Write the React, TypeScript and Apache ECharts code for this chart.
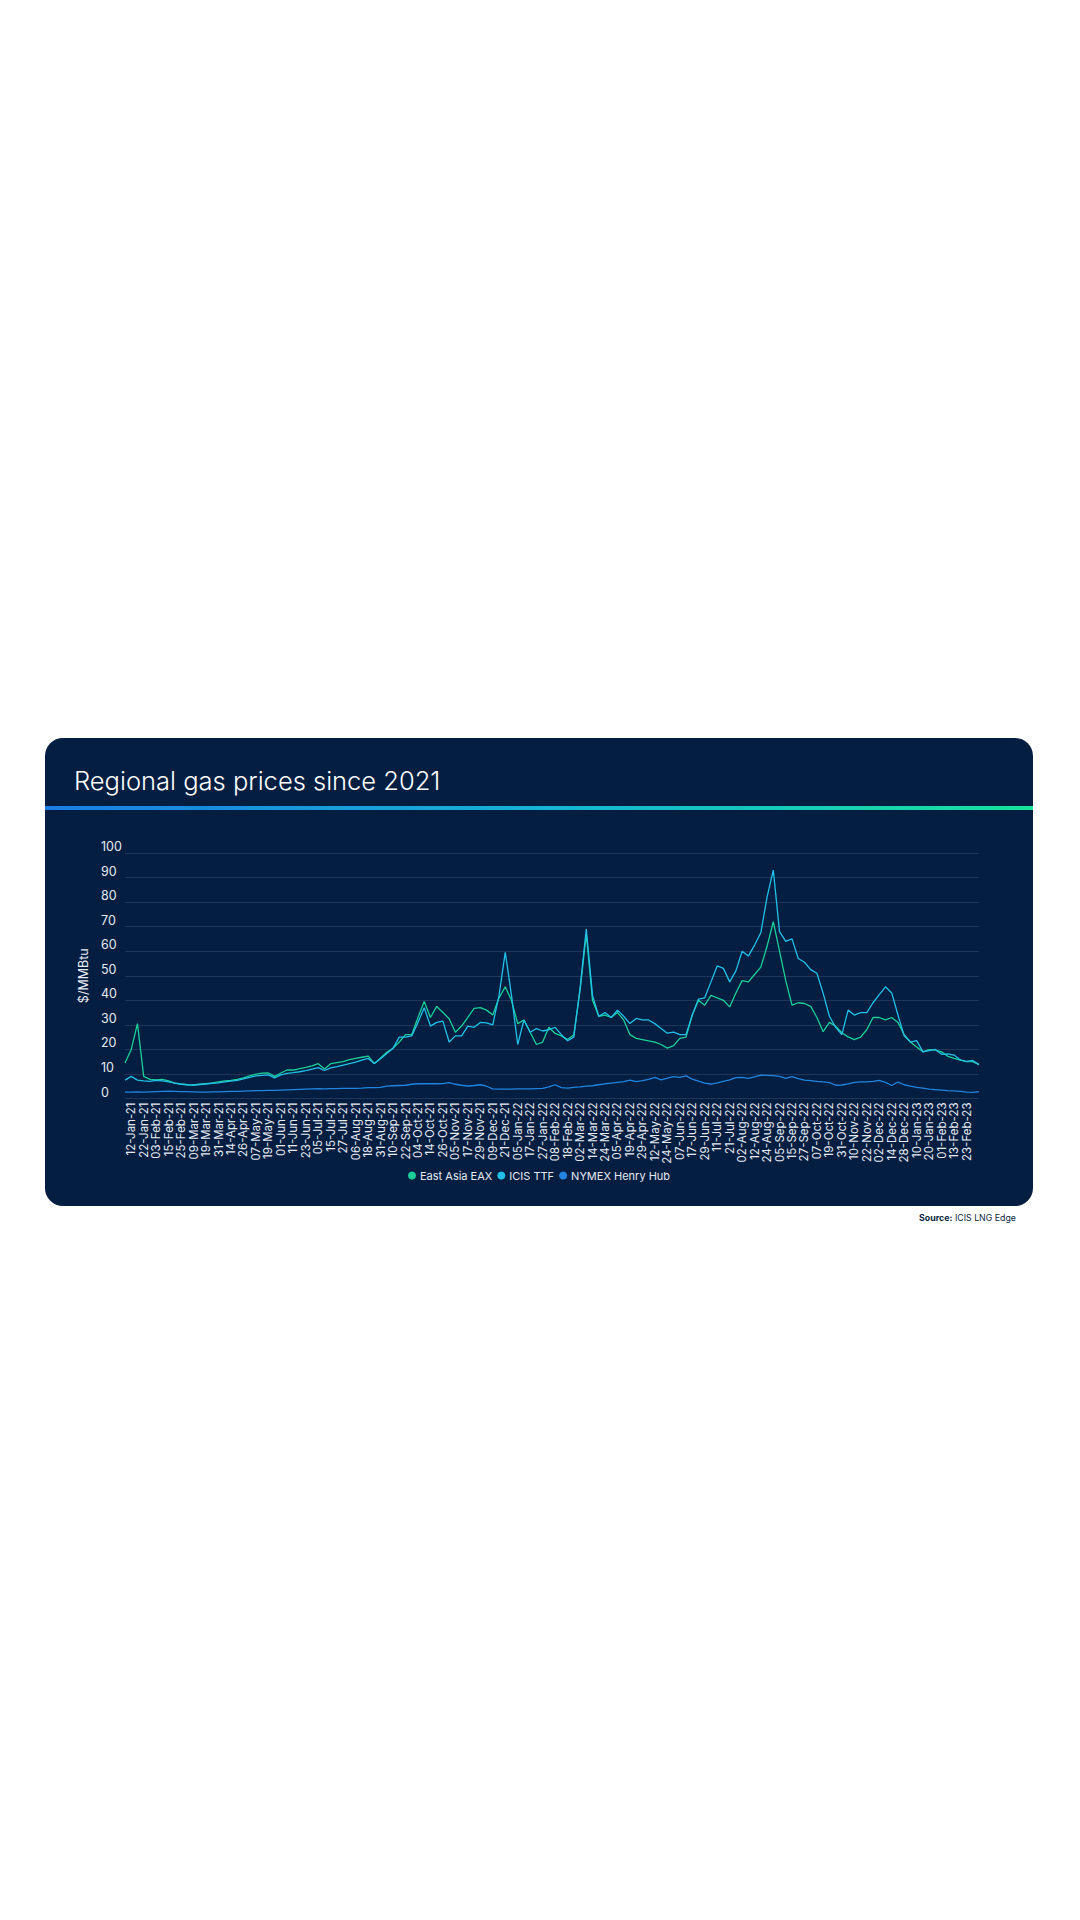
import React, { useEffect, useRef } from "react";
import * as echarts from "echarts";

const tickLabels = [
  "12-Jan-21", "22-Jan-21", "03-Feb-21", "15-Feb-21", "25-Feb-21", "09-Mar-21", "19-Mar-21", "31-Mar-21",
  "14-Apr-21", "26-Apr-21", "07-May-21", "19-May-21", "01-Jun-21", "11-Jun-21", "23-Jun-21", "05-Jul-21",
  "15-Jul-21", "27-Jul-21", "06-Aug-21", "18-Aug-21", "31-Aug-21", "10-Sep-21", "22-Sep-21", "04-Oct-21",
  "14-Oct-21", "26-Oct-21", "05-Nov-21", "17-Nov-21", "29-Nov-21", "09-Dec-21", "21-Dec-21", "05-Jan-22",
  "17-Jan-22", "27-Jan-22", "08-Feb-22", "18-Feb-22", "02-Mar-22", "14-Mar-22", "24-Mar-22", "05-Apr-22",
  "19-Apr-22", "29-Apr-22", "12-May-22", "24-May-22", "07-Jun-22", "17-Jun-22", "29-Jun-22", "11-Jul-22",
  "21-Jul-22", "02-Aug-22", "12-Aug-22", "24-Aug-22", "05-Sep-22", "15-Sep-22", "27-Sep-22", "07-Oct-22",
  "19-Oct-22", "31-Oct-22", "10-Nov-22", "22-Nov-22", "02-Dec-22", "14-Dec-22", "28-Dec-22", "10-Jan-23",
  "20-Jan-23", "01-Feb-23", "13-Feb-23", "23-Feb-23",
];

const midDates = [
  "18-Jan-21", "28-Jan-21", "09-Feb-21", "19-Feb-21", "03-Mar-21", "15-Mar-21", "25-Mar-21", "08-Apr-21",
  "20-Apr-21", "30-Apr-21", "13-May-21", "25-May-21", "07-Jun-21", "17-Jun-21", "29-Jun-21", "09-Jul-21",
  "21-Jul-21", "02-Aug-21", "12-Aug-21", "24-Aug-21", "06-Sep-21", "16-Sep-21", "28-Sep-21", "08-Oct-21",
  "20-Oct-21", "01-Nov-21", "11-Nov-21", "23-Nov-21", "03-Dec-21", "15-Dec-21", "29-Dec-21", "11-Jan-22",
  "21-Jan-22", "02-Feb-22", "14-Feb-22", "24-Feb-22", "08-Mar-22", "18-Mar-22", "30-Mar-22", "11-Apr-22",
  "25-Apr-22", "06-May-22", "18-May-22", "30-May-22", "13-Jun-22", "23-Jun-22", "05-Jul-22", "15-Jul-22",
  "27-Jul-22", "08-Aug-22", "18-Aug-22", "31-Aug-22", "09-Sep-22", "22-Sep-22", "03-Oct-22", "13-Oct-22",
  "25-Oct-22", "04-Nov-22", "16-Nov-22", "28-Nov-22", "08-Dec-22", "20-Dec-22", "04-Jan-23", "16-Jan-23",
  "26-Jan-23", "07-Feb-23", "17-Feb-23", "01-Mar-23",
];

const firstDate = "05-Jan-21";
const lastDate = "07-Mar-23";

const eastAsiaEAX = [
  14.5, 20, 30.5, 9, 7.8, 7.6, 7.8, 7.2, 6.3, 5.9,
  5.6, 5.5, 5.8, 6.1, 6.4, 6.8, 7.2, 7.4, 7.8, 8.4,
  9.2, 9.9, 10.3, 10.4, 9.0, 10.4, 11.6, 11.6, 12.2, 12.7,
  13.3, 14.2, 12.0, 14.2, 14.6, 15.0, 15.8, 16.3, 16.8, 17.3,
  14.2, 16.5, 18.8, 20.5, 23, 26, 26, 33, 39.5, 33,
  37.5, 35, 32.5, 27, 29.5, 33, 36.7, 37, 36, 34,
  41, 45.5, 40, 30.5, 32, 27, 22, 23, 29, 26.5,
  25.5, 24, 26, 44, 67, 40, 33.5, 34, 33, 35,
  32, 26, 24.5, 24, 23.5, 23, 22, 20.5, 21.5, 24.5,
  25, 34, 40, 38, 42, 41, 40, 37.3, 43, 48,
  47.5, 50.5, 53.5, 62, 72, 60, 48, 38, 39, 38.7,
  37.5, 33, 27.2, 31, 29.5, 26.8, 25.1, 24, 25, 28,
  33, 33, 32, 33, 31, 26, 23, 21, 19, 19.9,
  19.7, 19, 17.2, 16.3, 15.6, 15, 15, 13.8,
];

const icisTTF = [
  7.5, 9, 7.5, 7.2, 7, 7.4, 7.2, 6.8, 6.3, 5.8,
  5.6, 5.5, 5.7, 5.9, 6.2, 6.4, 6.8, 7.1, 7.4, 8.0,
  8.6, 9.2, 9.4, 9.6, 8.4, 9.6, 10.2, 10.5, 10.9, 11.4,
  12.0, 12.6, 11.4, 12.5, 13.0, 13.6, 14.2, 14.8, 15.6, 16.3,
  14.3, 16.2, 18.3, 20.5, 25, 25, 25.5, 31, 37, 29.5,
  31, 31.5, 23, 25.5, 25.5, 29.5, 29, 31, 30.8, 30,
  42, 59.5, 42, 22, 32, 27, 28.5, 27.5, 28, 29,
  26, 23.5, 25, 45, 69, 42, 33.5, 35, 33, 36,
  33.5, 30.5, 32.6, 32, 32, 30.5, 28.5, 26.6, 27, 26,
  26, 34, 40.5, 41, 47.5, 54, 53, 47.5, 52, 60,
  58, 62.5, 67.5, 82, 93, 68, 64, 65, 57, 55.5,
  52.5, 51, 42.8, 33.5, 29, 26, 36, 34, 35, 35,
  39, 42.3, 45.5, 43, 34, 25.5, 23, 23.6, 19, 19.5,
  20, 18, 18.2, 17.7, 15.7, 15.1, 15.5, 13.8,
];

const nymexHenryHub = [
  2.6, 2.6, 2.7, 2.6, 2.7, 2.8, 2.9, 3.0, 2.9, 2.8,
  2.8, 2.7, 2.6, 2.6, 2.7, 2.7, 2.8, 2.9, 2.9, 3.0,
  3.1, 3.2, 3.2, 3.3, 3.3, 3.4, 3.5, 3.6, 3.7, 3.8,
  3.9, 4.0, 3.9, 4.0, 4.0, 4.1, 4.1, 4.1, 4.2, 4.4,
  4.4, 4.5, 5.0, 5.2, 5.3, 5.4, 5.8, 6.0, 6.1, 6.0,
  6.0, 6.1, 6.5, 5.8, 5.4, 5.1, 5.3, 5.6, 5.0, 3.9,
  3.8, 3.8, 3.8, 3.9, 3.9, 3.9, 4.0, 4.1, 4.7, 5.6,
  4.4, 4.2, 4.5, 4.7, 5.0, 5.2, 5.6, 6.0, 6.3, 6.6,
  6.9, 7.5, 6.9, 7.3, 7.8, 8.6, 7.6, 8.3, 8.9, 8.6,
  9.2, 7.9, 7.1, 6.3, 5.9, 6.4, 7.0, 7.6, 8.5, 8.6,
  8.2, 8.8, 9.5, 9.4, 9.3, 9.0, 8.2, 8.9, 8.1, 7.5,
  7.3, 7.0, 6.8, 6.5, 5.4, 5.5, 6.0, 6.6, 6.8, 6.8,
  7.0, 7.4, 6.6, 5.3, 6.7, 5.6, 5.0, 4.5, 4.2, 3.8,
  3.6, 3.4, 3.2, 3.1, 2.9, 2.6, 2.5, 2.8,
];

const seriesNames = ["East Asia EAX", "ICIS TTF", "NYMEX Henry Hub"];
const seriesColors = ["#1ccf98", "#22c0e6", "#2184e0"];

const categories = [
  firstDate,
  ...tickLabels.flatMap((t, k) => [t, midDates[k]]),
  lastDate,
];

export default function App() {
  const ref = useRef<HTMLDivElement>(null);

  useEffect(() => {
    if (!ref.current) return;
    const chart = echarts.init(ref.current, null, { renderer: "svg" });
    const font = "Inter, 'Noto Sans', sans-serif";
    const lastLabelIndex = categories.length - 3;

    chart.setOption({
      animation: false,
      backgroundColor: "#ffffff",
      textStyle: { fontFamily: font },
      graphic: [
        {
          type: "rect",
          shape: { x: 45, y: 738, width: 988, height: 468, r: 18 },
          style: { fill: "#041e42" },
          z: -10,
        },
        {
          type: "rect",
          shape: { x: 45, y: 806, width: 988, height: 4 },
          style: {
            fill: new echarts.graphic.LinearGradient(0, 0, 1, 0, [
              { offset: 0, color: "#1b7de6" },
              { offset: 0.5, color: "#16b3d4" },
              { offset: 1, color: "#17e39b" },
            ]),
          },
          z: -9,
        },
        {
          type: "text",
          x: 74,
          y: 780,
          style: {
            text: "Regional gas prices since 2021",
            fill: "#ffffff",
            font: `300 25.5px ${font}`,
            verticalAlign: "middle",
          },
        },
        {
          type: "text",
          x: 1016,
          y: 1217,
          style: {
            text: "{b|Source:} ICIS LNG Edge",
            fill: "#0b1f3f",
            fontSize: 8.8,
            fontFamily: font,
            align: "right",
            verticalAlign: "middle",
            rich: {
              b: { fontWeight: "bold", fontSize: 8.8, fill: "#0b1f3f", fontFamily: font },
            },
          },
        },
      ],
      legend: {
        data: seriesNames,
        left: 403,
        top: 1165,
        icon: "circle",
        itemWidth: 8,
        itemHeight: 8,
        itemGap: 5,
        textStyle: { color: "#e6ebf2", fontSize: 11, fontFamily: font, padding: [0, 0, 0, -1] },
      },
      grid: { left: 125, right: 101, top: 853, bottom: 821.5, containLabel: false },
      xAxis: {
        type: "category",
        data: categories,
        boundaryGap: false,
        axisLine: { show: false },
        axisTick: { show: false },
        splitLine: { show: false },
        axisLabel: {
          rotate: 90,
          margin: 4,
          color: "#e6ebf2",
          fontSize: 11.5,
          fontFamily: font,
          interval: (index: number) => index % 2 === 1 && index <= lastLabelIndex,
        },
      },
      yAxis: {
        type: "value",
        min: 0,
        max: 100,
        interval: 10,
        name: "$/MMBtu",
        nameLocation: "middle",
        nameRotate: 90,
        nameGap: 32,
        nameTextStyle: { color: "#e6ebf2", fontSize: 12.5, fontFamily: font },
        axisLine: { show: false },
        axisTick: { show: false },
        axisLabel: {
          color: "#e6ebf2",
          fontSize: 12.5,
          fontFamily: font,
          align: "left",
          margin: 24,
          verticalAlign: "bottom",
        },
        splitLine: { lineStyle: { color: "#1d365a", width: 1 } },
      },
      series: [
        {
          name: seriesNames[0],
          type: "line",
          data: eastAsiaEAX,
          showSymbol: false,
          color: seriesColors[0],
          lineStyle: { width: 1.3, color: seriesColors[0] },
          z: 2,
        },
        {
          name: seriesNames[1],
          type: "line",
          data: icisTTF,
          showSymbol: false,
          color: seriesColors[1],
          lineStyle: { width: 1.3, color: seriesColors[1] },
          z: 3,
        },
        {
          name: seriesNames[2],
          type: "line",
          data: nymexHenryHub,
          showSymbol: false,
          color: seriesColors[2],
          lineStyle: { width: 1.3, color: seriesColors[2] },
          z: 4,
        },
      ],
    });

    return () => chart.dispose();
  }, []);

  return (
    <div
      ref={ref}
      style={{ position: "absolute", left: 0, top: 0, width: 1080, height: 1920 }}
    />
  );
}
